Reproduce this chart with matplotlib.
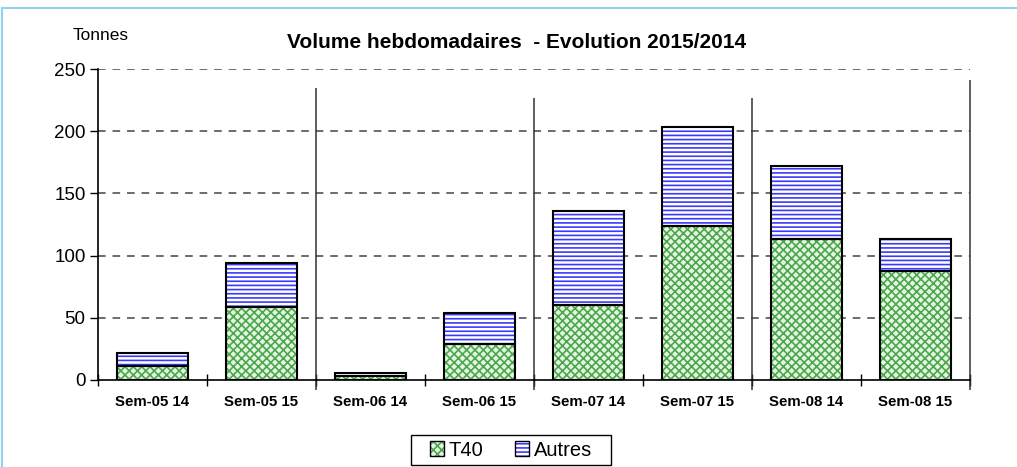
import numpy as np
import matplotlib
matplotlib.use("Agg")
import matplotlib.pyplot as plt
from matplotlib.patches import Patch, Rectangle
from matplotlib.lines import Line2D
from matplotlib.legend_handler import HandlerTuple

plt.rcParams['font.family'] = ['Liberation Sans', 'DejaVu Sans']
plt.rcParams['hatch.linewidth'] = 1.2

# --- données ---
semaines = ["Sem-05 14", "Sem-05 15", "Sem-06 14", "Sem-06 15",
            "Sem-07 14", "Sem-07 15", "Sem-08 14", "Sem-08 15"]
t40 = [11, 59, 3, 29, 60, 124, 113, 88]
autres = [10.5, 35, 2.5, 25, 75.5, 79, 59, 25]

# séparateurs entre semaines (position, hauteur haute)
sep_pos = [1.5, 3.5, 5.5, 7.5]
sep_top = [235, 227, 227, 241]

W, H = 1017, 467
fig = plt.figure(figsize=(W / 100, H / 100), dpi=100)
ax = fig.add_axes([98 / W, 1 - 380 / H, (970 - 98) / W, (380 - 69) / H])

x = np.arange(len(semaines))
bw = 0.66
green = '#4aa84a'
green_bg = '#e6f4e3'
blue = '#3a3aff'

# T40
ax.bar(x, t40, bw, color=green_bg, edgecolor=green, hatch='xxxx', linewidth=0, zorder=3)
ax.bar(x, t40, bw, fill=False, edgecolor='black', linewidth=1.5, zorder=4)
# Autres
ax.bar(x, autres, bw, bottom=t40, color='white', edgecolor=blue, hatch='----', linewidth=0, zorder=3)
ax.bar(x, autres, bw, bottom=t40, fill=False, edgecolor='black', linewidth=1.5, zorder=4)

ax.set_xlim(-0.5, len(semaines) - 0.5)
ax.set_ylim(0, 250)
ax.set_yticks([0, 50, 100, 150, 200, 250])

# grille pointillée
for yv in [50, 100, 150, 200, 250]:
    ax.axhline(yv, color='#444444', linestyle=(0, (5, 4.5)), linewidth=1.1, zorder=1)

# séparateurs verticaux
ax.vlines(sep_pos, -8, sep_top, color='#333333', linewidth=1.1, clip_on=False, zorder=2)

for s in ['top', 'right']:
    ax.spines[s].set_visible(False)
ax.spines['left'].set_linewidth(1.2)
ax.spines['bottom'].set_linewidth(1.2)

ax.set_xticks(x)
ax.set_xticklabels(semaines, fontweight='bold', fontsize=10.8)
ax.set_xticks(np.arange(-0.5, len(semaines), 1), minor=True)
ax.tick_params(axis='x', which='major', length=0, pad=11)
ax.tick_params(axis='x', which='minor', direction='inout', length=9, width=1)
ax.tick_params(axis='y', direction='out', length=6, width=1, labelsize=13.5, pad=3)

fig.text(517 / W, 1 - 43 / H, "Volume hebdomadaires  - Evolution 2015/2014",
         ha='center', va='center', fontsize=15, fontweight='bold')
fig.text(101 / W, 1 - 36 / H, "Tonnes", ha='center', va='center', fontsize=12.4)

# légende (cadre dessiné à part)
h1 = (Patch(facecolor=green_bg, edgecolor=green, hatch='xxxx', linewidth=0),
      Patch(fill=False, edgecolor='black', linewidth=1))
h2 = (Patch(facecolor='white', edgecolor=blue, hatch='----', linewidth=0),
      Patch(fill=False, edgecolor='black', linewidth=1))
fig.legend([h1, h2], ["T40", "Autres"], loc='center',
           bbox_to_anchor=(511 / W, 1 - 450 / H), ncol=2, fontsize=14.5,
           handler_map={tuple: HandlerTuple(ndivide=1, pad=0)},
           handlelength=0.7, handleheight=0.7, handletextpad=0.2,
           columnspacing=1.6, borderpad=0.2, borderaxespad=0, frameon=False)
fig.add_artist(Rectangle((411 / W, 1 - 465 / H), 200 / W, 30 / H,
                         transform=fig.transFigure, fill=False,
                         edgecolor='black', linewidth=1))

# cadre bleu clair de la figure
fig.add_artist(Line2D([2 / W, 2 / W], [0, 1 - 8 / H], color='#8fd3f0', linewidth=1.5))
fig.add_artist(Line2D([2 / W, 1], [1 - 8 / H, 1 - 8 / H], color='#8fd3f0', linewidth=1.5))

fig.savefig("out.png", dpi=100)
